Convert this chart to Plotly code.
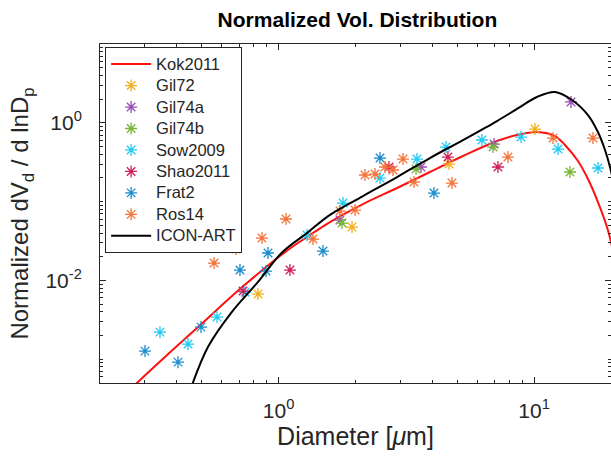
import numpy as np
import plotly.graph_objects as go

# ---------------- data ----------------
kok_d = [0.262, 0.279, 0.359, 0.484, 0.713, 1.06, 1.292, 1.589, 2.14, 2.91, 3.91,
         5.27, 7.16, 8.57, 10.26, 12.07, 13.21, 14.85, 16.25, 17.78, 19.29, 20.7]
kok_v = [4.07e-4, 5.0e-4, 1.07e-3, 2.56e-3, 8.0e-3, 0.0229, 0.0356, 0.0551, 0.0932,
         0.149, 0.2376, 0.379, 0.5876, 0.700, 0.764, 0.680, 0.523, 0.3275, 0.1935,
         0.0988, 0.0476, 0.0192]

icon_d = [0.454, 0.529, 0.651, 0.831, 1.031, 1.292, 1.589, 2.14, 2.91, 3.91, 5.27,
          7.16, 8.57, 10.26, 12.07, 14.07, 16.25, 17.78, 18.95, 19.82, 20.55]
icon_v = [4.31e-4, 1.43e-3, 3.86e-3, 9.6e-3, 0.0226, 0.0400, 0.0680, 0.1178, 0.205,
          0.3574, 0.605, 1.054, 1.50, 2.125, 2.46, 1.947, 1.256, 0.764, 0.452,
          0.275, 0.162]

gil72_d = [0.831, 1.938, 4.645, 10.08]
gil72_v = [6.72e-3, 0.0476, 0.30, 0.834]

gil74a_d = [1.739, 3.608, 6.97, 13.95]
gil74a_v = [0.0584, 0.275, 0.538, 1.84]

gil74b_d = [1.771, 3.45, 6.91, 13.82]
gil74b_v = [0.0535, 0.259, 0.493, 0.2376]

sow_d = [0.3434, 0.442, 0.574, 0.739, 1.292, 1.787, 2.494, 3.48, 4.52, 6.25, 8.89,
         12.41, 17.78]
sow_v = [2.21e-3, 1.56e-3, 3.43e-3, 7.1e-3, 0.0377, 0.096, 0.199, 0.347, 0.493,
         0.605, 0.660, 0.465, 0.267]

shao_d = [0.726, 1.108, 2.704, 4.60, 7.22]
shao_v = [7.34e-3, 0.01355, 0.275, 0.368, 0.275]

frat_d = [0.300, 0.404, 0.497, 0.706, 0.893, 0.909, 1.492, 2.494, 4.057]
frat_v = [1.27e-3, 9.2e-4, 2.56e-3, 0.01355, 0.01316, 0.0223, 0.0236, 0.357, 0.1286]

ros_d = [0.559, 0.681, 0.861, 1.069, 1.363, 1.739, 1.991, 2.179, 2.384, 2.609,
         2.804, 3.069, 3.388, 4.77, 7.90, 11.86, 17.0]
ros_v = [0.01663, 0.025, 0.0345, 0.0602, 0.0335, 0.076, 0.0782, 0.2176, 0.224,
         0.275, 0.252, 0.347, 0.1774, 0.172, 0.368, 0.641, 0.641]

x_tickvals = [1, 10]
x_ticktext = ["10<sup>0</sup>", "10<sup>1</sup>"]
y_tickvals = [1e-2, 1]
y_ticktext = ["10<sup>-2</sup>", "10<sup>0</sup>"]

# ---------------- figure ----------------
AX = "#262626"
FONT = "Liberation Sans"


def leg(name):
    return '<span style="font-size:16.5px">%s</span>' % name


fig = go.Figure()

fig.add_trace(go.Scatter(x=kok_d, y=kok_v, mode="lines", name=leg("Kok2011"),
                         line=dict(color="#FF1010", width=2, shape="spline",
                                   smoothing=1.0)))

marker_series = [
    ("Gil72", gil72_d, gil72_v, "#F2B01E"),
    ("Gil74a", gil74a_d, gil74a_v, "#9A4DB8"),
    ("Gil74b", gil74b_d, gil74b_v, "#77B836"),
    ("Sow2009", sow_d, sow_v, "#22CCF2"),
    ("Shao2011", shao_d, shao_v, "#D0205A"),
    ("Frat2", frat_d, frat_v, "#1A8CCB"),
    ("Ros14", ros_d, ros_v, "#F5743A"),
]
for name, d, v, c in marker_series:
    fig.add_trace(go.Scatter(x=d, y=v, mode="markers", name=leg(name),
                             marker=dict(symbol="asterisk-open", size=10,
                                         color=c, line=dict(color=c, width=1.3))))

fig.add_trace(go.Scatter(x=icon_d, y=icon_v, mode="lines", name=leg("ICON-ART"),
                         line=dict(color="black", width=2, shape="spline",
                                   smoothing=1.0)))

axis_common = dict(type="log", showline=True, linecolor=AX, linewidth=1,
                   mirror="allticks", ticks="inside", ticklen=6, tickcolor=AX,
                   showgrid=False, zeroline=False, automargin=False,
                   tickfont=dict(family=FONT, size=21, color=AX),
                   minor=dict(ticks="inside", ticklen=3, tickcolor=AX, dtick="D1",
                              showgrid=False))

fig.update_xaxes(**axis_common, range=[np.log10(0.2), np.log10(20)],
                 tickmode="array", tickvals=x_tickvals, ticktext=x_ticktext,
                 ticklabelstandoff=9,
                 title=dict(text="Diameter [<i>μ</i>m]", standoff=6,
                            font=dict(family=FONT, size=25, color=AX)))
fig.update_yaxes(**axis_common, range=[np.log10(5e-4), 1],
                 tickmode="array", tickvals=y_tickvals, ticktext=y_ticktext,
                 ticklabelstandoff=13,
                 title=dict(text="Normalized dV<sub>d</sub> / d lnD<sub>p</sub>",
                            standoff=9, font=dict(family=FONT, size=24, color=AX)))

fig.update_layout(
    width=611, height=456,
    margin=dict(l=100, r=0, t=44, b=73),
    paper_bgcolor="white", plot_bgcolor="white",
    font=dict(family=FONT, color=AX),
    title=dict(text="<b>Normalized Vol. Distribution</b>", x=0.585, xanchor="center",
               y=0.956, yanchor="middle", yref="container",
               font=dict(family=FONT, size=21, color="black")),
    legend=dict(x=0.01, y=0.99, xanchor="left", yanchor="top", itemwidth=40,
                bgcolor="white", bordercolor=AX, borderwidth=1,
                font=dict(family=FONT, size=14.2, color=AX)),
    showlegend=True,
)

fig.write_html("out.html", config={"displayModeBar": False},
               post_script="document.body.style.margin='0';"
                           "document.body.style.overflow='hidden';")
